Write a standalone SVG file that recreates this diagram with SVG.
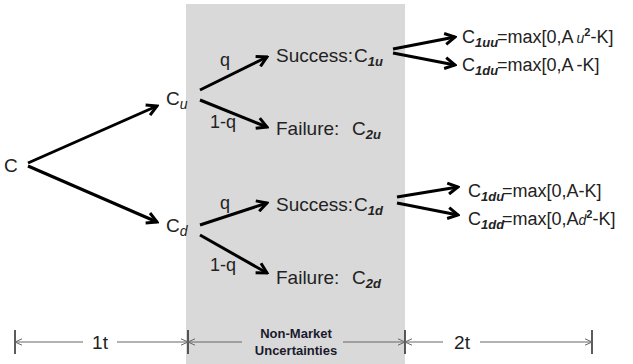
<svg xmlns="http://www.w3.org/2000/svg" width="633" height="364" viewBox="0 0 633 364">
<style>
text{font-family:"Liberation Sans",Arial,sans-serif;fill:#222}
.m{font-size:19px}
.f{font-size:18px}
.sb{font-size:13px;font-weight:bold;font-style:italic}
.si{font-size:14px;font-style:italic}
.lb{font-size:18px}
.nm{font-size:13px;font-weight:bold;fill:#1a1a2e}
.arr{stroke:#000;stroke-width:3;fill:none;marker-end:url(#ah)}
.dim{stroke:#666;stroke-width:1;fill:none;marker-start:url(#dh);marker-end:url(#dh)}
.tick{stroke:#333;stroke-width:1.6}
</style>
<defs>
<marker id="ah" viewBox="0 0 14 14" refX="12" refY="7" markerWidth="14" markerHeight="14" markerUnits="userSpaceOnUse" orient="auto">
<path d="M2,1.5 L12,7 L2,12.5" fill="none" stroke="#000" stroke-width="3"/>
</marker>
<marker id="dh" viewBox="0 0 8 8" refX="8" refY="4" markerWidth="8" markerHeight="8" markerUnits="userSpaceOnUse" orient="auto-start-reverse">
<path d="M1,0.8 L8,4 L1,7.2" fill="none" stroke="#666" stroke-width="1"/>
</marker>
</defs>
<rect id="non-market-band" x="186" y="4" width="219" height="360" fill="#d9d9d9"/>
<g id="connectors">
<line class="arr" x1="28" y1="163" x2="157" y2="106"/>
<line class="arr" x1="28" y1="166" x2="157" y2="222"/>
<line class="arr" x1="200" y1="90" x2="267" y2="57"/>
<line class="arr" x1="200" y1="100" x2="267" y2="127"/>
<line class="arr" x1="200" y1="225" x2="267" y2="203"/>
<line class="arr" x1="200" y1="235" x2="267" y2="273"/>
<line class="arr" x1="393" y1="49" x2="455" y2="37"/>
<line class="arr" x1="393" y1="53" x2="455" y2="65"/>
<line class="arr" x1="397" y1="197" x2="458" y2="187"/>
<line class="arr" x1="397" y1="203" x2="458" y2="215"/>
</g>
<g id="edge-labels">
<text class="lb" x="220" y="66">q</text>
<text class="lb" x="210" y="128">1-q</text>
<text class="lb" x="220" y="209">q</text>
<text class="lb" x="210" y="271">1-q</text>
</g>
<g id="node-C"><text class="m" x="4" y="172">C</text></g>
<g id="node-Cu"><text class="m" x="166" y="105">C<tspan class="si" dy="4">u</tspan></text></g>
<g id="node-Cd"><text class="m" x="166" y="232">C<tspan class="si" dy="4">d</tspan></text></g>
<g id="node-S1u"><text class="m" x="276" y="62">Success:<tspan dx="1">C</tspan><tspan class="sb" dy="4">1u</tspan></text></g>
<g id="node-F2u"><text class="m" x="276" y="135">Failure:<tspan x="352">C</tspan><tspan class="sb" dy="4">2u</tspan></text></g>
<g id="node-S1d"><text class="m" x="276" y="211">Success:<tspan dx="1">C</tspan><tspan class="sb" dy="4">1d</tspan></text></g>
<g id="node-F2d"><text class="m" x="276" y="284">Failure:<tspan x="352">C</tspan><tspan class="sb" dy="4">2d</tspan></text></g>
<g id="node-C1uu"><text class="f" x="462" y="43">C<tspan class="sb" x="475" dy="4">1uu</tspan><tspan x="497" dy="-4">=max[0,A</tspan><tspan class="si" dx="3" font-size="18">u</tspan><tspan font-size="11" font-weight="bold" dy="-7">2</tspan><tspan dy="7">-K]</tspan></text></g>
<g id="node-C1du-up"><text class="f" x="462" y="71">C<tspan class="sb" x="475" dy="4">1du</tspan><tspan x="497" dy="-4">=max[0,A</tspan><tspan dx="3">-K]</tspan></text></g>
<g id="node-C1du-down"><text class="f" x="468" y="197">C<tspan class="sb" x="481" dy="4">1du</tspan><tspan x="502" dy="-4">=max[0,A-K]</tspan></text></g>
<g id="node-C1dd"><text class="f" x="468" y="225">C<tspan class="sb" x="481" dy="4">1dd</tspan><tspan x="502" dy="-4">=max[0,A</tspan><tspan class="si" font-size="18">d</tspan><tspan font-size="11" font-weight="bold" dy="-7">2</tspan><tspan dy="7">-K]</tspan></text></g>
<g id="timeline">
<line class="tick" x1="15" y1="330" x2="15" y2="354"/>
<line class="tick" x1="188" y1="330" x2="188" y2="354"/>
<line class="tick" x1="405" y1="330" x2="405" y2="354"/>
<line class="tick" x1="592" y1="330" x2="592" y2="354"/>
<line class="dim" x1="15" y1="342" x2="83" y2="342" style="marker-end:none"/>
<line class="dim" x1="117" y1="342" x2="188" y2="342" style="marker-start:none"/>
<line class="dim" x1="188" y1="342" x2="242" y2="342" style="marker-end:none"/>
<line class="dim" x1="343" y1="342" x2="405" y2="342" style="marker-start:none"/>
<line class="dim" x1="405" y1="342" x2="443" y2="342" style="marker-end:none"/>
<line class="dim" x1="480" y1="342" x2="592" y2="342" style="marker-start:none"/>
<text class="m" x="100" y="349" text-anchor="middle">1t</text>
<text class="m" x="462" y="349" text-anchor="middle">2t</text>
<text class="nm" x="296" y="338" text-anchor="middle">Non-Market</text>
<text class="nm" x="296" y="355" text-anchor="middle">Uncertainties</text>
</g>
</svg>
